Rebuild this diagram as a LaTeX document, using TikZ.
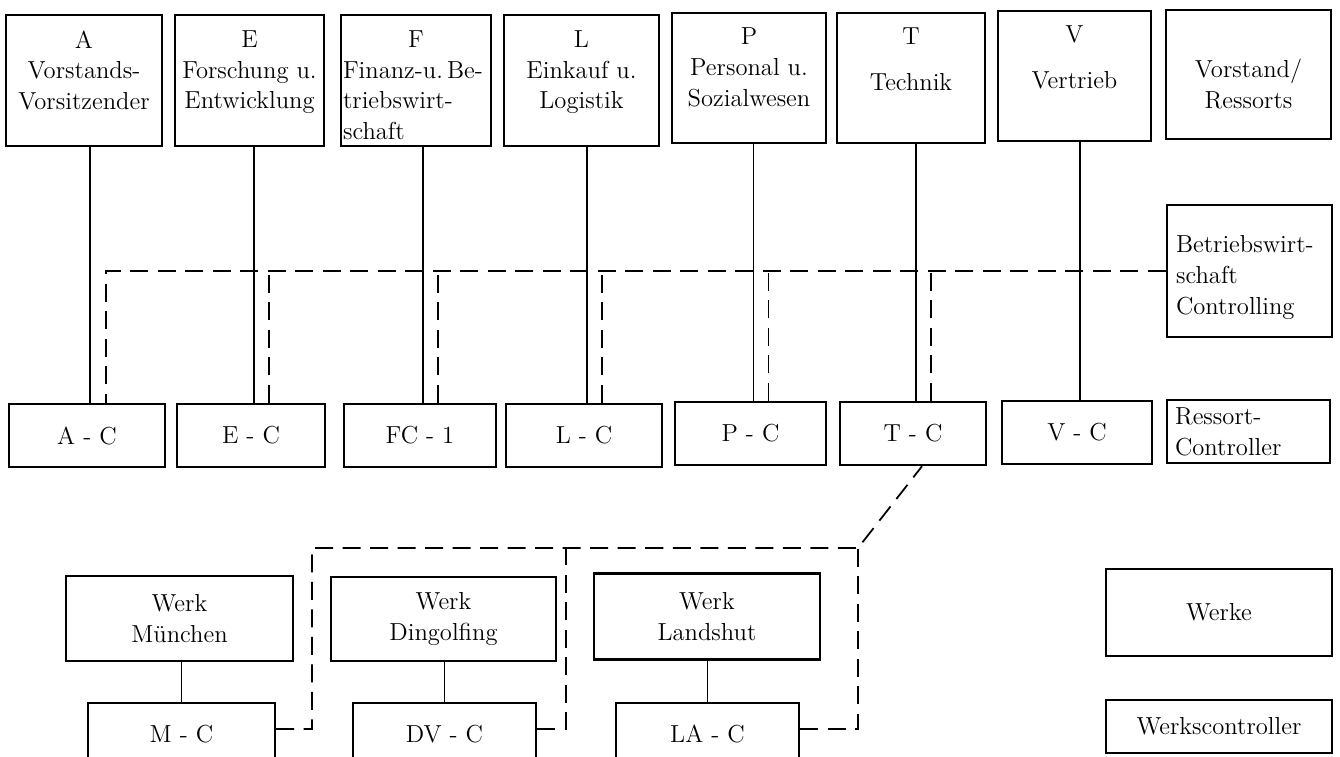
\documentclass[tikz,border=0pt]{standalone}
\usepackage{tikz}
\usetikzlibrary{shapes}
\usetikzlibrary{positioning}

\newcommand{\oben}[1]{\parbox[c][20mm][t]{29.2mm}{\centering #1}}

\begin{document}
\begin{tikzpicture}[x=0.2mm,y=-0.2mm]
\tikzstyle{ressort} = [rectangle, draw, line width=1.4pt, inner sep=0.2mm,
minimum height=26.2mm, font=\fontsize{14}{17.5}\selectfont]
\tikzstyle{controller} = [rectangle, draw, line width=1.4pt,
minimum height=12.6mm, font=\fontsize{14}{17.5}\selectfont]
\tikzstyle{werk} = [rectangle, draw, line width=1.4pt, align=center,
minimum height=17mm, font=\fontsize{14}{17.5}\selectfont]
\tikzstyle{legende} = [rectangle, draw, line width=1.4pt, text width=29.4mm,
align=left, font=\fontsize{14}{17.5}\selectfont]
\tikzstyle{line} = [draw, line width=0.8pt]
\tikzstyle{dline} = [draw, line width=1pt, dash pattern=on 3.6mm off 1.9mm]
\useasboundingbox[fill=white] (0,0) rectangle (1340,756);
% row 1: Vorstand
\node [ressort, minimum width=31.2mm] (A) at (84,80.5) {\oben{A\\Vorstands-\\Vorsitzender}};
\node [ressort, minimum width=29.8mm] (E) at (249.5,80.5) {\oben{E\\Forschung u.\\Entwicklung}};
\node [ressort, minimum width=30mm] (F) at (416,80.5) {\oben{F\par\raggedright\mbox{Finanz-u.\,Be-}\\triebswirt-\\schaft}};
\node [ressort, minimum width=31mm] (L) at (581.5,80.5) {\oben{L\\Einkauf u.\\Logistik}};
\node [ressort, minimum width=30.8mm, minimum height=26mm] (P) at (749,78) {\oben{P\\Personal u.\\Sozialwesen}};
\node [ressort, minimum width=29.6mm, minimum height=26mm] (T) at (911,78) {\oben{T\\[3mm]Technik}};
\node [ressort, minimum width=30.6mm, minimum height=26mm] (V) at (1074.5,76) {\oben{V\\[3mm]Vertrieb}};
\node [ressort, minimum width=33mm, minimum height=25.8mm] (vorstand) at (1248.5,74.5) {\oben{\vspace*{7mm}Vorstand/\\Ressorts}};
% row 2: Betriebswirtschaft
\node [legende, minimum width=33mm, minimum height=26.4mm] (BC) at (1249.5,271) {\rule{0pt}{6mm}Betriebswirt-\\schaft\\Controlling};
% row 3: Ressort-Controller
\node [controller, minimum width=31.2mm] (AC) at (87,435.5) {A - C};
\node [controller, minimum width=29.6mm] (EC) at (251,435.5) {E - C};
\node [controller, minimum width=30.4mm] (FC) at (420,435.5) {FC - 1};
\node [controller, minimum width=31.2mm] (LC) at (584,435.5) {L - C};
\node [controller, minimum width=30.2mm] (PC) at (750.5,433.5) {P - C};
\node [controller, minimum width=29.2mm] (TC) at (913,433.5) {T - C};
\node [controller, minimum width=30mm] (VC) at (1077,432.5) {V - C};
\node [legende, minimum width=32.6mm, minimum height=12.6mm] (RC) at (1248.5,431.5) {Ressort-\\Controller};
% row 4: Werke
\node [werk, minimum width=45.4mm] (WM) at (179.5,618.5) {Werk\\M\"unchen};
\node [werk, minimum width=45mm, minimum height=16.8mm] (WD) at (443.5,619) {Werk\\Dingolfing};
\node [werk, minimum width=45.2mm, minimum height=17.2mm] (WL) at (707,616.5) {Werk\\Landshut};
\node [werk, minimum width=45.2mm, minimum height=17.4mm] (werke) at (1219,612.5) {Werke};
% row 5: Werkscontroller
\node [controller, minimum width=37.4mm, minimum height=12.4mm] (MC) at (181.5,734) {M - C};
\node [controller, minimum width=36.6mm, minimum height=12.4mm] (DC) at (444.5,734) {DV - C};
\node [controller, minimum width=36.6mm, minimum height=12.4mm] (LAC) at (707.5,734) {LA - C};
\node [controller, minimum width=45.2mm, minimum height=10.6mm] (WC) at (1219,726.5) {Werkscontroller};

\foreach \a/\b in {A/AC,E/EC,F/FC,L/LC,P/PC,T/TC,V/VC}
  \draw[line] ([xshift=0.6mm]\b.north) -- ([xshift=0.6mm]\b.north |- \a.south);
\foreach \a/\b in {WM/MC,WD/DC,WL/LAC}
  \draw[line] (\b) -- (\b |- \a.south);

% Controlling
\draw[dline] (BC.west) -| ([xshift=3.8mm]AC.north);
\foreach \n in {EC,FC,LC,PC,TC}
  \draw[dline] ([xshift=3.6mm]\n.north) -- ([xshift=3.6mm]\n.north |- BC.west);

% Werkscontroller
\coordinate (knick) at (858,548);
\coordinate (links) at (312,548);
\coordinate (mitte) at (566,548);
\draw[dline] ([yshift=1mm]MC.east) -| (links) -- (knick) -- ([xshift=1.8mm]TC.south);
\draw[dline] ([yshift=1mm]DC.east) -| (mitte);
\draw[dline] ([yshift=1mm]LAC.east) -| (knick);
\end{tikzpicture}
\end{document}
